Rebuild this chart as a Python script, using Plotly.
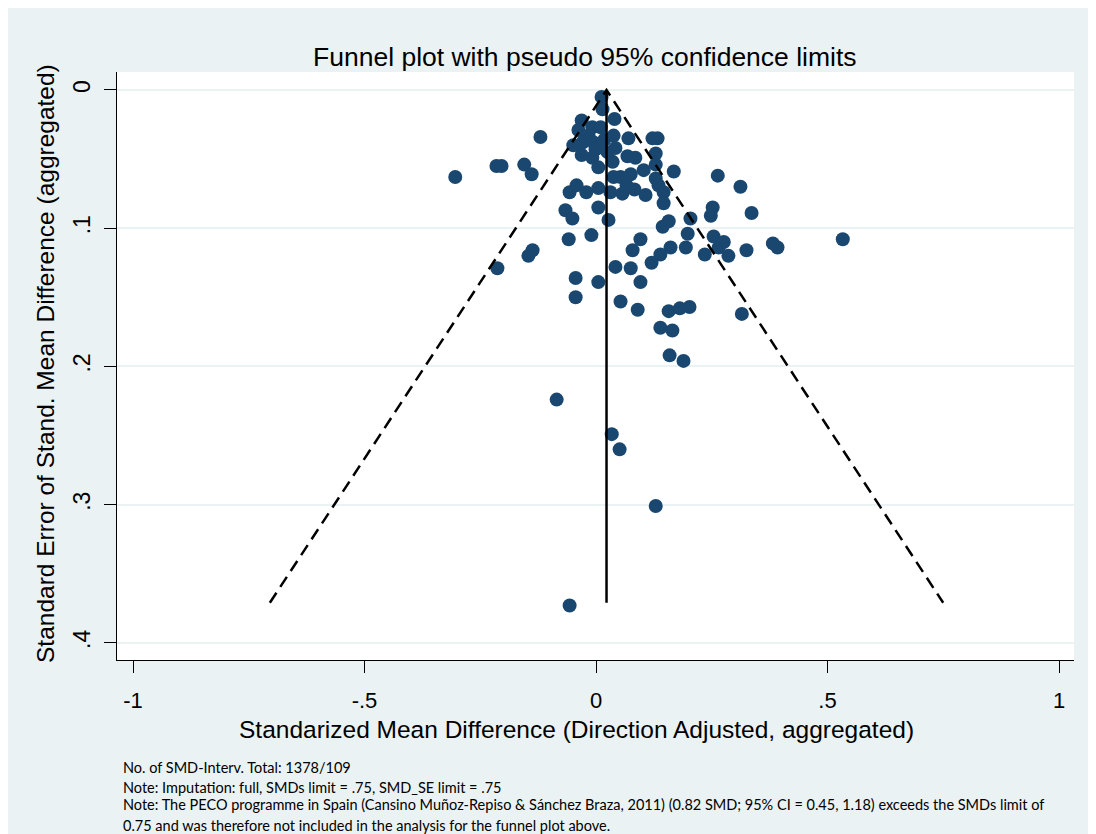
import plotly.graph_objects as go

# Effect sizes (SMD) and standard errors
smd = [-0.304, -0.215, -0.204, -0.155, -0.139, -0.120, -0.137, -0.146, -0.213, -0.059,
       -0.010, -0.044, 0.005, -0.044, -0.066, -0.051, 0.005, 0.027, -0.057, -0.042,
       -0.021, 0.005, 0.031, -0.031, -0.008, 0.005, 0.036, 0.053, 0.012, 0.014,
       0.040, -0.031, -0.038, -0.008, 0.010, 0.038, 0.070, -0.049, -0.029, -0.005,
       -0.001, 0.025, 0.042, 0.068, 0.085, 0.075, 0.066, 0.083, 0.057, 0.122,
       0.133, 0.129, 0.129, 0.168, 0.263, 0.312, 0.129, 0.135, 0.038, 0.146,
       0.146, 0.252, 0.248, 0.336, 0.157, 0.144, 0.204, 0.198, 0.254, 0.276,
       0.265, 0.096, 0.079, 0.161, 0.194, 0.139, 0.120, 0.075, 0.042, 0.096,
       0.235, 0.286, 0.325, 0.382, 0.392, 0.533, 0.053, 0.090, 0.157, 0.181,
       0.202, 0.139, 0.165, 0.159, 0.189, 0.315, -0.085, 0.034, 0.051, 0.129,
       -0.057, -0.016, 0.018, 0.103, 0.010, 0.107]
se = [0.063, 0.055, 0.055, 0.054, 0.061, 0.034, 0.116, 0.120, 0.129, 0.108,
      0.105, 0.136, 0.139, 0.150, 0.087, 0.093, 0.085, 0.094, 0.074, 0.069,
      0.074, 0.071, 0.074, 0.047, 0.049, 0.056, 0.052, 0.063, 0.005, 0.014,
      0.021, 0.022, 0.029, 0.027, 0.027, 0.033, 0.035, 0.040, 0.038, 0.038,
      0.043, 0.045, 0.042, 0.048, 0.049, 0.061, 0.069, 0.072, 0.075, 0.035,
      0.035, 0.046, 0.054, 0.059, 0.062, 0.070, 0.064, 0.069, 0.063, 0.074,
      0.082, 0.085, 0.091, 0.089, 0.095, 0.099, 0.093, 0.104, 0.106, 0.110,
      0.114, 0.108, 0.116, 0.114, 0.114, 0.119, 0.125, 0.129, 0.128, 0.139,
      0.119, 0.120, 0.116, 0.111, 0.114, 0.108, 0.153, 0.159, 0.160, 0.158,
      0.157, 0.172, 0.174, 0.192, 0.196, 0.162, 0.224, 0.249, 0.260, 0.301,
      0.373, 0.033, 0.036, 0.058, 0.041, 0.076]

pooled = 0.0227
se_max = 0.371

x_ticks = [-1, -0.5, 0, 0.5, 1]
x_tick_labels = ["-1", "-.5", "0", ".5", "1"]
y_ticks = [0, 0.1, 0.2, 0.3, 0.4]
y_tick_labels = ["0", ".1", ".2", ".3", ".4"]

title = "Funnel plot with pseudo 95% confidence limits"
x_title = "Standarized Mean Difference (Direction Adjusted, aggregated)"
y_title = "Standard Error of Stand. Mean Difference (aggregated)"
notes = [
    "No. of SMD-Interv. Total: 1378/109",
    "Note: Imputation: full, SMDs limit = .75, SMD_SE limit = .75",
    "Note: The PECO programme in Spain (Cansino Muñoz-Repiso & Sánchez Braza, 2011) (0.82 SMD; 95% CI = 0.45, 1.18) exceeds the SMDs limit of",
    "0.75 and was therefore not included in the analysis for the funnel plot above.",
]

NAVY = "#1a476f"
BG = "#eaf2f3"
FONT = "Liberation Sans, Arial, sans-serif"

fig = go.Figure()
fig.add_trace(go.Scatter(x=smd, y=se, mode="markers",
                         marker=dict(color=NAVY, size=14, line=dict(width=0)),
                         hoverinfo="x+y", showlegend=False))
fig.add_trace(go.Scatter(
    x=[pooled - 1.96 * se_max, pooled, pooled + 1.96 * se_max],
    y=[se_max, 0, se_max], mode="lines",
    line=dict(color="black", width=2.5, dash="12px,7px"), showlegend=False, hoverinfo="skip"))
fig.add_trace(go.Scatter(x=[pooled, pooled], y=[0, se_max], mode="lines",
                         line=dict(color="black", width=2.5), showlegend=False, hoverinfo="skip"))

OFF = 8  # page offset of the figure
W, H = 1096, 834
L, R, T, B = 117 - OFF, 1074 - OFF, 72 - OFF, 660 - OFF

fig.update_layout(
    width=W, height=H,
    margin=dict(l=L, r=W - R, t=T, b=H - B, autoexpand=False),
    paper_bgcolor=BG, plot_bgcolor="white",
    font=dict(family=FONT, color="black", size=20),
    showlegend=False,
    xaxis=dict(range=[-1.0346, 1.0324], tickvals=x_ticks, ticktext=x_tick_labels,
               ticks="outside", ticklen=12, tickwidth=1, tickcolor="black",
               showline=True, linecolor="black", linewidth=1, showgrid=False,
               zeroline=False, tickfont=dict(size=22), ticklabelstandoff=9),
    yaxis=dict(range=[0.4124, -0.0130], tickvals=y_ticks, ticktext=y_tick_labels,
               ticks="outside", ticklen=12, tickwidth=1, tickcolor="black",
               showline=True, linecolor="black", linewidth=1, showgrid=True,
               gridcolor=BG, gridwidth=2, zeroline=False, tickangle=-90,
               tickfont=dict(size=23), ticklabelstandoff=5),
)


def px_x(px):
    return (px - OFF - L) / (R - L)


def px_y(py):
    return (B - (py - OFF)) / (B - T)


fig.add_annotation(text=title, x=px_x(585), y=px_y(57), xref="paper", yref="paper",
                   xanchor="center", yanchor="middle", showarrow=False, font=dict(size=26.5))
fig.add_annotation(text=x_title, x=px_x(576), y=px_y(729), xref="paper", yref="paper",
                   xanchor="center", yanchor="middle", showarrow=False, font=dict(size=24.5))
fig.add_annotation(text=y_title, textangle=-90, x=px_x(45), y=px_y(364),
                   xref="paper", yref="paper", xanchor="center", yanchor="middle",
                   showarrow=False, font=dict(size=24.5))

note_y = [767, 787, 805, 825]
for txt, py in zip(notes, note_y):
    fig.add_annotation(text=txt, x=px_x(121), y=px_y(py), xref="paper", yref="paper",
                       xanchor="left", yanchor="middle", showarrow=False,
                       font=dict(family="Lato, Liberation Sans, sans-serif", size=14.5))

fig.write_html("out.html")
